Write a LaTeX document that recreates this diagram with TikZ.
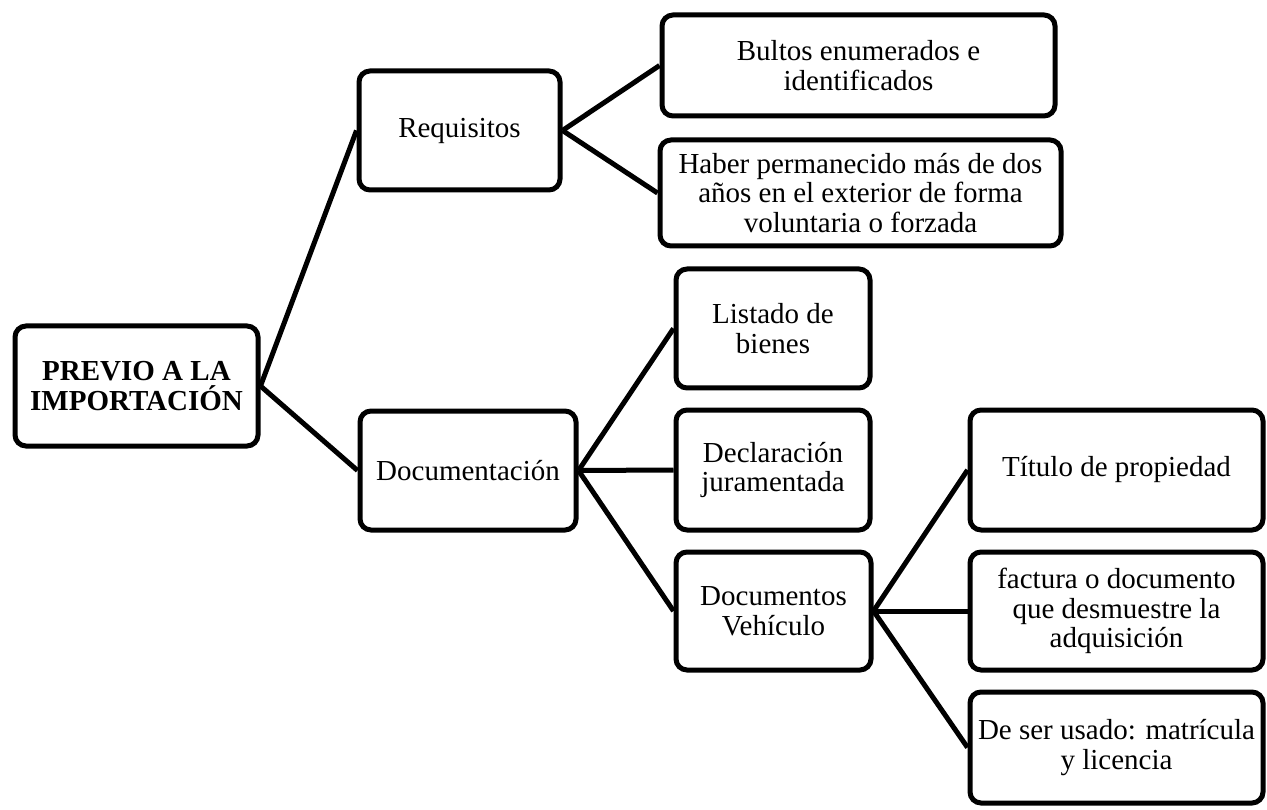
\documentclass[tikz,border=0pt]{standalone}
\usepackage{fontspec}
\setmainfont{Liberation Serif}
\begin{document}
\begin{tikzpicture}[x=1pt,y=-1pt,
  box/.style={draw=black,line width=5pt,rounded corners=11pt,fill=white,
    align=center,inner sep=0pt,font=\fontsize{29}{29.5}\selectfont},
  link/.style={line width=5pt,black}]
\useasboundingbox (0,0) rectangle (1267,810);
\node[box,minimum width=243pt,minimum height=120pt] (root) at (136.5,386) {\bfseries PREVIO A LA\\\bfseries IMPORTACIÓN};
\node[box,minimum width=201pt,minimum height=119pt] (req) at (459.5,130.5) {Requisitos};
\node[box,minimum width=216pt,minimum height=119pt] (doc) at (468,470.5) {Documentación};
\node[box,minimum width=393pt,minimum height=101pt] (bul) at (858.5,65.5) {Bultos enumerados e\\identificados};
\node[box,minimum width=401pt,minimum height=106pt] (hab) at (860.5,193) {Haber permanecido más de dos\\años en el exterior de forma\\voluntaria o forzada};
\node[box,minimum width=194pt,minimum height=119pt] (lis) at (773,328.5) {Listado de\\bienes};
\node[box,minimum width=194pt,minimum height=120pt] (dec) at (773,470) {Declaración\\juramentada};
\node[box,minimum width=195pt,minimum height=118pt] (veh) at (773.5,611) {Documentos\\Vehículo};
\node[box,minimum width=293pt,minimum height=120pt] (tit) at (1116.5,470) {Título de propiedad};
\node[box,minimum width=293pt,minimum height=118pt] (fac) at (1116.5,611) {factura o documento\\que desmuestre la\\adquisición};
\node[box,minimum width=293pt,minimum height=111pt] (ser) at (1116.5,747.5) {De ser usado: matrícula\\y licencia};
\draw[link] (root.east) -- (req.west);
\draw[link] (root.east) -- (doc.west);
\draw[link] (req.east) -- (bul.west);
\draw[link] (req.east) -- (hab.west);
\draw[link] (doc.east) -- (lis.west);
\draw[link] (doc.east) -- (dec.west);
\draw[link] (doc.east) -- (veh.west);
\draw[link] (veh.east) -- (tit.west);
\draw[link] (veh.east) -- (fac.west);
\draw[link] (veh.east) -- (ser.west);
\end{tikzpicture}
\end{document}
